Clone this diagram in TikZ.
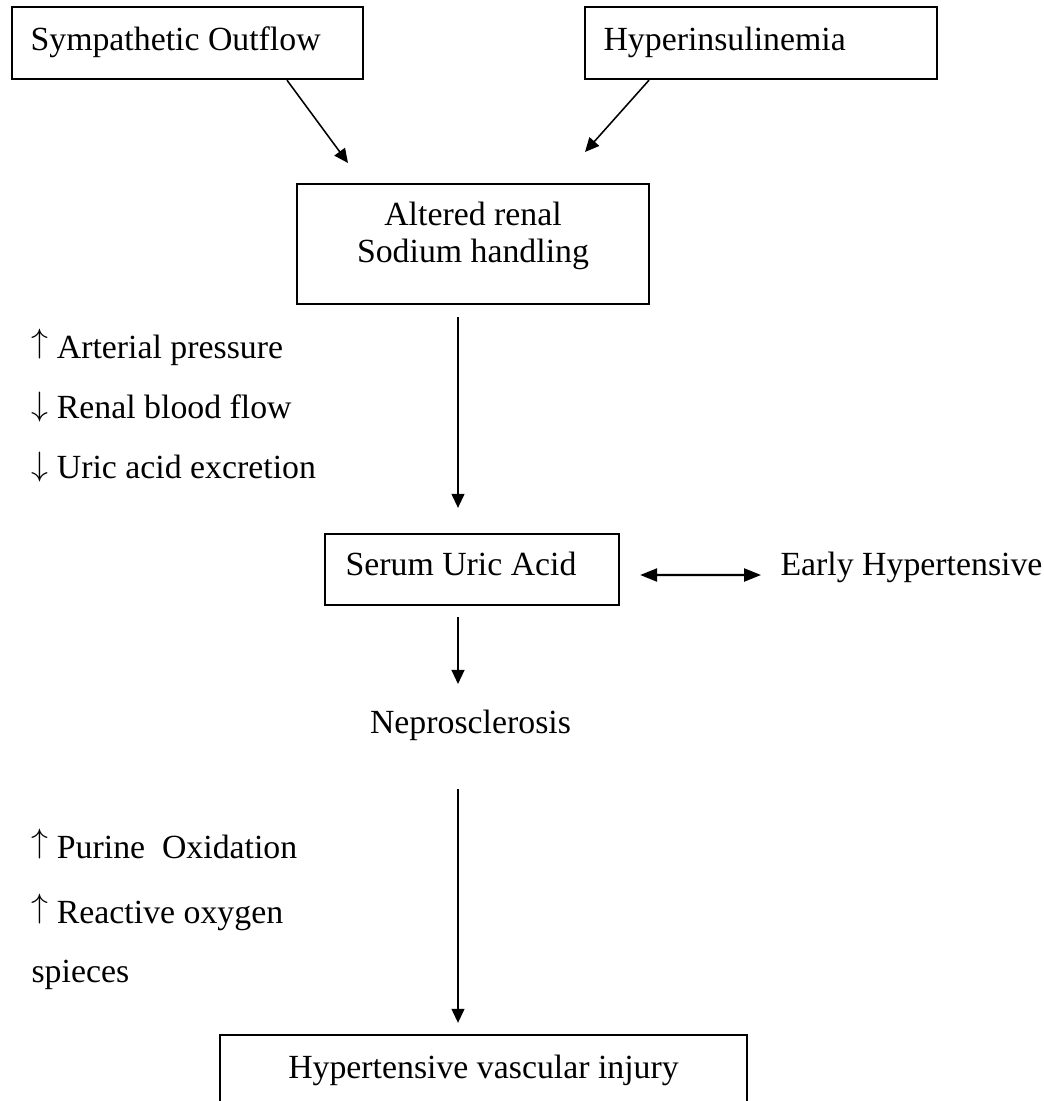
\documentclass[tikz,border=0pt]{standalone}
\usepackage{fontspec}
\setmainfont{Liberation Serif}
\usetikzlibrary{arrows.meta}

\newcommand\upar{\raisebox{0.17em}{$\uparrow$}}
\newcommand\dnar{\raisebox{0.06em}{$\downarrow$}}

\tikzset{
  box/.style={draw,line width=0.8pt,inner sep=0pt},
  txt/.style={inner sep=0pt,anchor=base west},
  link/.style={line width=0.55pt,-{Triangle[length=5pt,width=4.6pt]}},
}

\begin{document}
\begin{tikzpicture}[x=0.355pt,y=-0.355pt,font=\fontsize{12}{13.1}\selectfont]
  \clip (0,0) rectangle (1043,1101);
  \node[box,minimum width=124.6pt,minimum height=25.6pt] (sym) at (187.5,43) {};
  \node[box,minimum width=125pt,minimum height=25.6pt] (hyp) at (761,43) {};
  \node[box,minimum width=125pt,minimum height=42.6pt] (alt) at (473,244) {};
  \node[box,minimum width=104.4pt,minimum height=25.2pt] (sua) at (472,569.5) {};
  \node[box,minimum width=187.1pt,minimum height=40pt] (inj) at (483.5,1091.3) {};

  \node[txt] (symT) at (30,50) {Sympathetic Outflow};
  \node[txt] (hypT) at (603,50) {Hyperinsulinemia};
  \node[align=center,inner sep=0pt] (altT) at (473,236) {Altered renal\\Sodium handling};
  \node[txt] (suaT) at (345,575) {Serum Uric Acid};
  \node[txt] (early) at (780,575) {Early Hypertensive};
  \node[txt,anchor=base] (nep) at (470.5,733) {Neprosclerosis};
  \node[txt,anchor=base] (injT) at (483.5,1078) {Hypertensive vascular injury};

  \node[txt] (ap) at (31,358) {\upar\ Arterial pressure};
  \node[txt] (rbf) at (31,418) {\dnar\ Renal blood flow};
  \node[txt] (uae) at (31,478) {\dnar\ Uric acid excretion};
  \node[txt] (po) at (31,858) {\upar\ Purine\ \ Oxidation};
  \node[txt] (ros) at (31,923) {\upar\ Reactive oxygen};
  \node[txt] (spc) at (31,982) {spieces};

  \coordinate (symE) at (348,163);
  \coordinate (hypE) at (585,152);
  \draw[link] ([shift={(99.5,0)}]sym.south) -- (symE);
  \draw[link] ([shift={(-112,0)}]hyp.south) -- (hypE);
  \draw[link] ([shift={(-15,12)}]alt.south) -- ([shift={(-14,-25)}]sua.north);
  \draw[link] ([shift={(-14,11)}]sua.south) -- ([shift={(-12.5,-25)}]nep.north);
  \draw[link] ([shift={(-12.5,48)}]nep.south) -- ([shift={(-25.5,-11)}]inj.north);
  \draw[line width=0.8pt,{Triangle[length=6pt,width=4.6pt]}-{Triangle[length=6pt,width=4.6pt]}]
    ([shift={(20,5.5)}]sua.east) -- ([shift={(-19,0)}]early.base west);
\end{tikzpicture}
\end{document}
